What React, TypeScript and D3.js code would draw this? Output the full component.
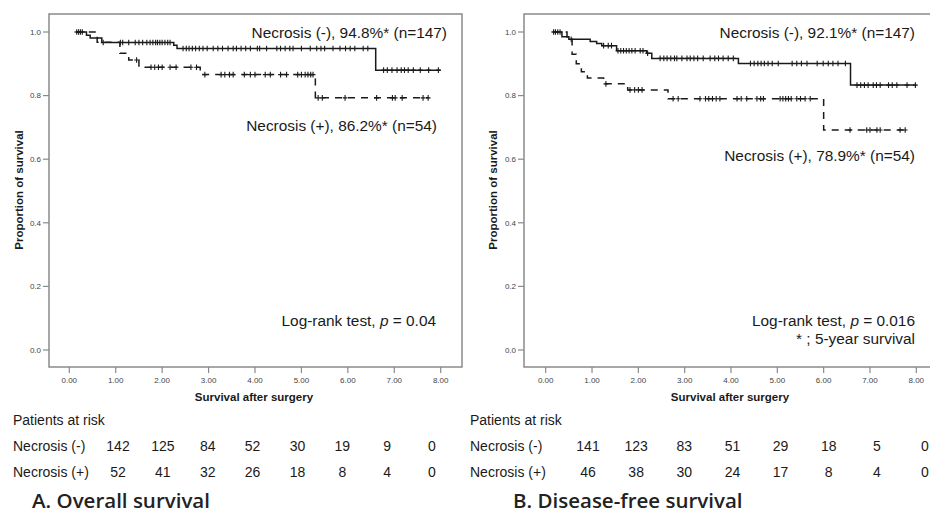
import React from 'react';
import * as d3 from 'd3';

// ---------- data ----------
const timeTicks = [0, 1, 2, 3, 4, 5, 6, 7, 8];
const survTicks = [0, 0.2, 0.4, 0.6, 0.8, 1.0];

// A. Overall survival
const osNegTimes = [0.14, 0.37, 0.45, 0.70, 2.25, 2.32, 6.60, 8.00];
const osNegSurv = [1.0, 0.990, 0.981, 0.967, 0.958, 0.948, 0.880, 0.880];
const osNegCensor = [0.16, 0.2, 0.24, 0.28, 0.73, 1.1, 1.15, 1.28, 1.42, 1.5, 1.58, 1.67, 1.74, 1.8, 1.86, 1.9, 1.95, 2.0, 2.06, 2.12, 2.17,
  2.45, 2.52, 2.58, 2.65, 2.72, 2.8, 2.88, 2.97, 3.1, 3.2, 3.3, 3.42, 3.53, 3.6, 3.7, 3.8, 3.9, 4.05, 4.1, 4.25, 4.47, 4.55, 4.65, 4.75, 4.82,
  5.0, 5.19, 5.33, 5.42, 5.5, 5.68, 5.83, 5.95, 6.05, 6.15, 6.33, 6.43, 6.77, 6.85, 6.95, 7.06, 7.15, 7.22, 7.3, 7.41, 7.56, 7.74, 7.95];

const osPosTimes = [0.14, 0.60, 1.09, 1.28, 1.50, 2.82, 5.30, 7.73];
const osPosSurv = [1.0, 0.968, 0.933, 0.912, 0.889, 0.866, 0.793, 0.793];
const osPosCensor = [1.45, 1.76, 1.84, 1.92, 2.0, 2.17, 2.3, 2.62, 2.74, 2.92, 3.27, 3.35, 3.45, 3.53, 3.77, 3.9, 4.0, 4.22, 4.33, 4.55, 4.68,
  4.92, 5.0, 5.08, 5.14, 5.2, 5.25, 5.36, 5.45, 5.94, 6.62, 6.96, 7.02, 7.17, 7.62, 7.73];

// B. Disease-free survival
const dfsNegTimes = [0.15, 0.35, 0.50, 0.96, 1.10, 1.21, 1.53, 2.18, 2.29, 4.16, 6.58, 8.00];
const dfsNegSurv = [1.0, 0.985, 0.977, 0.970, 0.964, 0.957, 0.941, 0.933, 0.917, 0.901, 0.833, 0.833];
const dfsNegCensor = [0.17, 0.21, 0.26, 0.31, 0.55, 1.25, 1.35, 1.42, 1.56, 1.62, 1.68, 1.74, 1.8, 1.86, 1.93, 2.04, 2.1, 2.2, 2.47, 2.55,
  2.62, 2.7, 2.78, 2.83, 2.94, 3.05, 3.12, 3.2, 3.28, 3.4, 3.55, 3.65, 3.73, 3.83, 3.94, 4.05, 4.42, 4.5, 4.58, 4.65, 4.72, 4.8, 4.89,
  5.02, 5.32, 5.42, 5.52, 5.64, 5.86, 5.99, 6.1, 6.2, 6.31, 6.47, 6.72, 6.8, 6.88, 6.96, 7.07, 7.14, 7.22, 7.4, 7.48, 7.58, 7.8, 7.98];

const dfsPosTimes = [0.15, 0.46, 0.57, 0.66, 0.77, 0.90, 1.25, 1.77, 2.64, 6.00, 7.76];
const dfsPosSurv = [1.0, 0.981, 0.930, 0.900, 0.875, 0.855, 0.837, 0.818, 0.790, 0.692, 0.692];
const dfsPosCensor = [1.3, 1.82, 1.92, 2.0, 2.08, 2.75, 2.86, 3.33, 3.45, 3.52, 3.6, 3.68, 3.76, 4.13, 4.22, 4.34, 4.56, 4.64, 4.7,
  5.06, 5.12, 5.18, 5.24, 5.3, 5.42, 5.5, 5.6, 5.71, 6.57, 6.93, 7.0, 7.15, 7.22, 7.65, 7.76];

// numbers at risk
const osRiskNeg = [142, 125, 84, 52, 30, 19, 9, 0];
const osRiskPos = [52, 41, 32, 26, 18, 8, 4, 0];
const dfsRiskNeg = [141, 123, 83, 51, 29, 18, 5, 0];
const dfsRiskPos = [46, 38, 30, 24, 17, 8, 4, 0];

const groupLabels = ['Necrosis (-)', 'Necrosis (+)'];

// ---------- drawing ----------
const W = 930;
const H = 514;
const FONT = "'Liberation Sans', Arial, sans-serif";
const INK = '#1a1a1a';
const FRAME = '#8a8a8a';

const yScale = d3.scaleLinear().domain([0, 1]).range([350, 32]);

function stepAt(times: number[], surv: number[], t: number) {
  let v = surv[0];
  for (let i = 0; i < times.length; i++) if (times[i] <= t) v = surv[i];
  return v;
}

function Curve({ x, times, surv, censor, dashed }: any) {
  const line = d3
    .line<number>()
    .x((_, i) => x(times[i]))
    .y((_, i) => yScale(surv[i]))
    .curve(d3.curveStepAfter);
  const d = line(times) || '';
  return (
    <g>
      <path d={d} fill="none" stroke={INK} strokeWidth={1.5} strokeDasharray={dashed ? '7,6' : undefined} />
      {censor.map((t: number, i: number) => {
        const cx = x(t);
        const cy = yScale(stepAt(times, surv, t));
        return (
          <path key={i} d={`M${cx},${cy - 2.8}V${cy + 2.8}M${cx - 2.4},${cy}H${cx + 2.4}`} stroke={INK} strokeWidth={1.1} />
        );
      })}
    </g>
  );
}

function Panel(props: any) {
  const { frameL, frameR, xRange, curves, notes, riskX, riskNeg, riskPos, tableX, title, titleX, yLabelX } = props;
  const x = d3.scaleLinear().domain([0, 8]).range(xRange);
  const rx = d3.scalePoint<number>().domain(d3.range(8)).range(riskX);
  const fmtX = d3.format('.2f');
  const fmtY = d3.format('.1f');
  const top = 14;
  const bottom = 367;
  return (
    <g>
      <rect x={frameL} y={top} width={frameR - frameL} height={bottom - top} fill="none" stroke={FRAME} strokeWidth={1.5} />
      {survTicks.map((v) => (
        <g key={v}>
          <line x1={frameL - 6} x2={frameL} y1={yScale(v)} y2={yScale(v)} stroke={FRAME} strokeWidth={1.2} />
          <text x={frameL - 8} y={yScale(v) + 2.8} textAnchor="end" fontSize={8} fill="#444" fontFamily={FONT}>
            {fmtY(v)}
          </text>
        </g>
      ))}
      {timeTicks.map((v) => (
        <g key={v}>
          <line x1={x(v)} x2={x(v)} y1={bottom} y2={bottom + 6} stroke={FRAME} strokeWidth={1.2} />
          <text x={x(v)} y={383} textAnchor="middle" fontSize={8} fill="#444" fontFamily={FONT}>
            {fmtX(v)}
          </text>
        </g>
      ))}
      <text x={(xRange[0] + xRange[1]) / 2 - 1} y={401} textAnchor="middle" fontSize={11.5} fontWeight="bold" fill={INK} fontFamily={FONT}>
        Survival after surgery
      </text>
      <text transform={`translate(${yLabelX},190) rotate(-90)`} textAnchor="middle" fontSize={11.5} fontWeight="bold" fill={INK} fontFamily={FONT}>
        Proportion of survival
      </text>
      {curves.map((c: any, i: number) => (
        <Curve key={i} x={x} {...c} />
      ))}
      {notes.map((n: any, i: number) => (
        <text key={i} x={n.x} y={n.y} textAnchor="end" fontSize={15.4} fill={INK} fontFamily={FONT}>
          {n.pre}
          {n.italic ? <tspan fontStyle="italic">{n.italic}</tspan> : null}
          {n.post}
        </text>
      ))}
      <text x={tableX} y={425} fontSize={14} fill={INK} fontFamily={FONT}>Patients at risk</text>
      {[riskNeg, riskPos].map((row: number[], r: number) => (
        <g key={r}>
          <text x={tableX} y={451 + r * 26} fontSize={14} fill={INK} fontFamily={FONT}>{groupLabels[r]}</text>
          {row.map((v, i) => (
            <text key={i} x={rx(i)} y={451 + r * 26} textAnchor="middle" fontSize={14} fill={INK} fontFamily={FONT}>
              {v}
            </text>
          ))}
        </g>
      ))}
      <text x={titleX} y={508} fontSize={20.5} fontWeight={600} fill="#222" fontFamily="'Open Sans', sans-serif">
        {title}
      </text>
    </g>
  );
}

export default function App() {
  return (
    <svg width={W} height={H} style={{ position: 'absolute', left: 0, top: 0, background: '#fff' }}>
      <rect x={0} y={0} width={W} height={H} fill="#fff" />
      <Panel
        frameL={49}
        frameR={462}
        xRange={[69.3, 440.7]}
        yLabelX={22.5}
        curves={[
          { times: osNegTimes, surv: osNegSurv, censor: osNegCensor, dashed: false },
          { times: osPosTimes, surv: osPosSurv, censor: osPosCensor, dashed: true },
        ]}
        notes={[
          { x: 447, y: 38, pre: 'Necrosis (-), 94.8%* (n=147)' },
          { x: 437, y: 131, pre: 'Necrosis (+), 86.2%* (n=54)' },
          { x: 436, y: 325.5, pre: 'Log-rank test, ', italic: 'p', post: ' = 0.04' },
        ]}
        riskX={[118, 432]}
        riskNeg={osRiskNeg}
        riskPos={osRiskPos}
        tableX={13}
        title="A. Overall survival"
        titleX={32}
      />
      <Panel
        frameL={524}
        frameR={937}
        xRange={[545.7, 916.3]}
        yLabelX={497}
        curves={[
          { times: dfsNegTimes, surv: dfsNegSurv, censor: dfsNegCensor, dashed: false },
          { times: dfsPosTimes, surv: dfsPosSurv, censor: dfsPosCensor, dashed: true },
        ]}
        notes={[
          { x: 915, y: 38, pre: 'Necrosis (-), 92.1%* (n=147)' },
          { x: 915, y: 161, pre: 'Necrosis (+), 78.9%* (n=54)' },
          { x: 915, y: 325.5, pre: 'Log-rank test, ', italic: 'p', post: ' = 0.016' },
          { x: 915, y: 344, pre: '* ; 5-year survival' },
        ]}
        riskX={[588, 925]}
        riskNeg={dfsRiskNeg}
        riskPos={dfsRiskPos}
        tableX={470}
        title="B. Disease-free survival"
        titleX={513}
      />
    </svg>
  );
}
